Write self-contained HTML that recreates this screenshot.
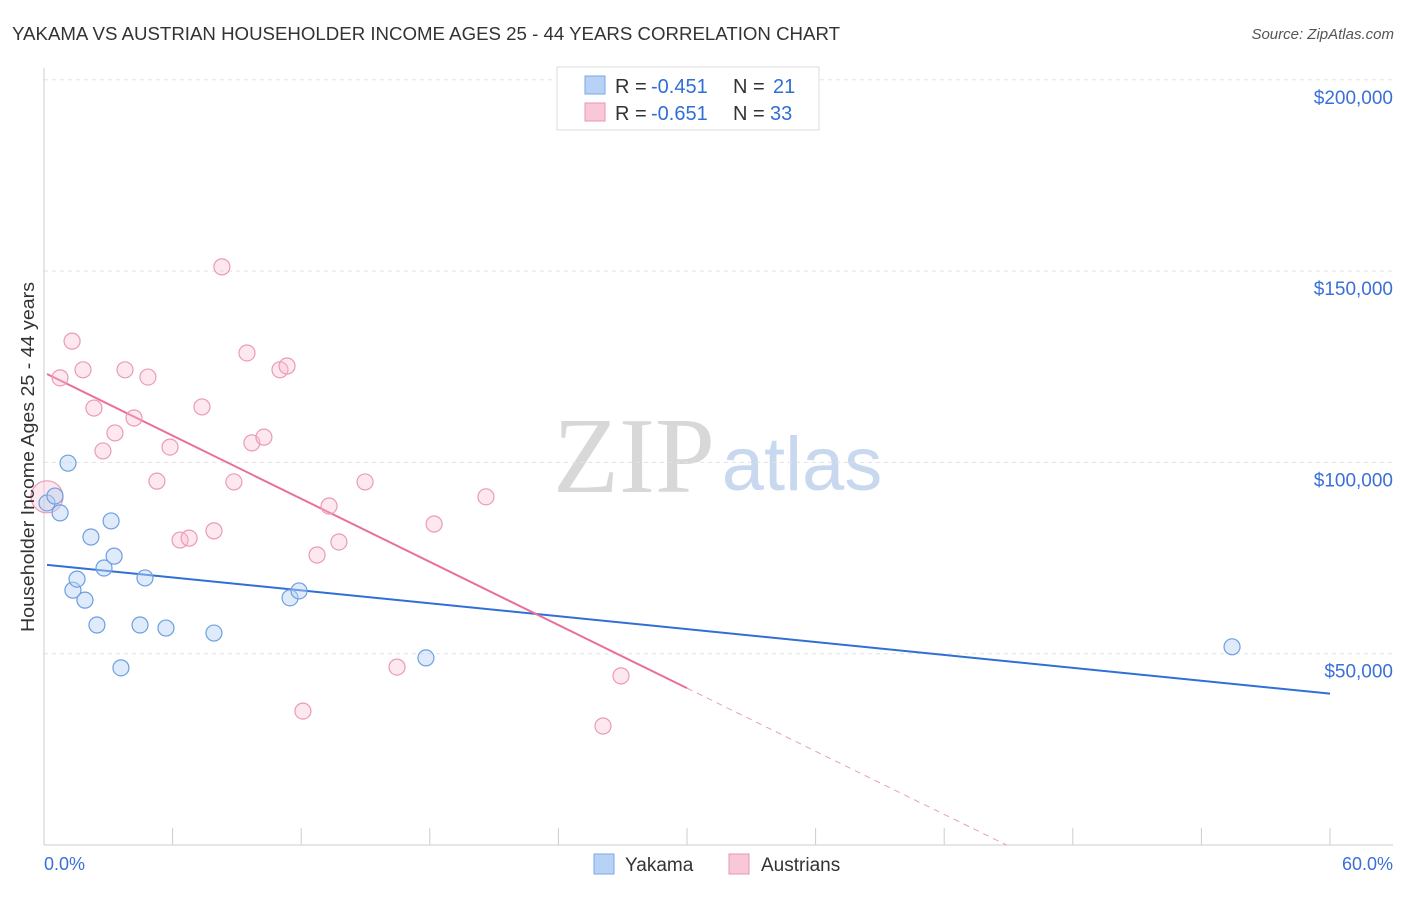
<!DOCTYPE html>
<html><head><meta charset="utf-8"><style>
body{margin:0;background:#fff;font-family:"Liberation Sans",sans-serif;}
svg text{font-family:"Liberation Sans",sans-serif;}
</style></head><body>
<svg id="c" width="1406" height="892" xmlns="http://www.w3.org/2000/svg">
<text x="12" y="40" font-size="18" fill="#333" textLength="828" lengthAdjust="spacingAndGlyphs">YAKAMA VS AUSTRIAN HOUSEHOLDER INCOME AGES 25 - 44 YEARS CORRELATION CHART</text>
<text x="1394" y="39" font-size="15" fill="#555" text-anchor="end" font-style="italic">Source: ZipAtlas.com</text>
<text x="634" y="492" font-size="108" fill="#d8d8d8" text-anchor="middle" style="font-family:'Liberation Serif',serif">ZIP</text>
<text x="802" y="490" font-size="76" fill="#c8d8ef" text-anchor="middle">atlas</text>
<g id="grid"></g><g id="axes"></g><g id="lines"></g><g id="pts"></g>
<text x="34" y="457" font-size="18" fill="#333" text-anchor="middle" textLength="350" lengthAdjust="spacingAndGlyphs" transform="rotate(-90 34 457)">Householder Income Ages 25 - 44 years</text>
<text x="44" y="870" font-size="18" fill="#3a6fd8">0.0%</text>
<text x="1393" y="870" font-size="18" fill="#3a6fd8" text-anchor="end">60.0%</text>
<g>
<rect x="557" y="67" width="262" height="63" fill="#fff" stroke="#ddd"/>
<rect x="585" y="76" width="20" height="18" fill="#b7d2f5" stroke="#7aa8e6"/>
<rect x="585" y="103" width="20" height="18" fill="#f9c8d7" stroke="#eb94b0"/>
<text x="615" y="93" font-size="20" fill="#333">R =</text>
<text x="651" y="93" font-size="20" fill="#2f6fd6">-0.451</text>
<text x="733" y="93" font-size="20" fill="#333">N =</text>
<text x="773" y="93" font-size="20" fill="#2f6fd6">21</text>
<text x="615" y="120" font-size="20" fill="#333">R =</text>
<text x="651" y="120" font-size="20" fill="#2f6fd6">-0.651</text>
<text x="733" y="120" font-size="20" fill="#333">N =</text>
<text x="770" y="120" font-size="20" fill="#2f6fd6">33</text>
</g>
<g>
<rect x="594" y="854" width="20" height="20" fill="#b7d2f5" stroke="#7aa8e6"/>
<text x="625" y="871" font-size="19" fill="#333">Yakama</text>
<rect x="729" y="854" width="20" height="20" fill="#f9c8d7" stroke="#eb94b0"/>
<text x="761" y="871" font-size="19" fill="#333">Austrians</text>
</g>
</svg>
<script>
const yTicks=[50000,100000,150000,200000];
const yTickLabels=["$50,000","$100,000","$150,000","$200,000"];
const xTicks=[0,6,12,18,24,30,36,42,48,54,60];
const blueX=[0.14,0.51,0.75,1.12,1.35,1.54,1.91,2.19,2.47,2.80,3.13,3.27,3.59,4.48,4.71,5.69,7.93,11.48,11.90,17.82,55.43];
const blueY=[89.4,91.2,86.8,99.8,66.6,69.5,64.0,80.5,57.5,72.4,84.7,75.5,46.3,57.5,69.8,56.7,55.4,64.6,66.4,48.9,51.8];
const pinkX=[0.14,0.75,1.31,1.82,2.33,2.75,3.31,3.78,4.20,4.85,5.27,5.88,6.35,6.77,7.37,7.93,8.30,8.86,9.47,9.70,10.26,11.01,11.34,12.08,12.74,13.30,13.76,14.98,16.47,18.20,20.62,26.08,26.92];
const pinkY=[91.0,122.1,131.7,124.2,114.2,103.0,107.7,124.2,111.6,122.3,95.1,104.0,79.7,80.2,114.5,82.1,151.1,94.9,128.6,105.1,106.6,124.2,125.2,35.0,75.8,88.6,79.2,94.9,46.5,83.9,91.0,31.1,44.2];
const blueTrend=[73.3,-0.5625];
const pinkTrend=[123.5,-2.75];
const NS="http://www.w3.org/2000/svg";
const X=v=>44+v/60*1286, Y=v=>845-v/50000*191.3, Yk=v=>Y(v*1000);
function mk(t,a,p){const e=document.createElementNS(NS,t);for(const k in a)e.setAttribute(k,a[k]);document.getElementById(p).appendChild(e);return e;}
yTicks.forEach((t,i)=>{
 const l=mk('line',{x1:44,x2:1393,y1:Y(t),y2:Y(t),stroke:'#e2e2e2','stroke-dasharray':'4,4'},'grid');
 
 
 const tx=mk('text',{x:1393,y:Y(t)+24,'font-size':19,fill:'#3a6fd8','text-anchor':'end'},'grid');
 tx.textContent=yTickLabels[i];
 
 
});
const ax=mk('line',{x1:44,x2:1393,y1:845,y2:845,stroke:'#ccc'},'axes');


const ay=mk('line',{x1:44,x2:44,y1:68,y2:845,stroke:'#ccc'},'axes');


xTicks.forEach(t=>{const l=mk('line',{x1:X(t),x2:X(t),y1:828,y2:845,stroke:'#ccc'},'axes');
 
 });
const bl=mk('line',{x1:X(0.14),y1:Yk(blueTrend[0]+blueTrend[1]*0.14),x2:X(60),y2:Yk(blueTrend[0]+blueTrend[1]*60),stroke:'#2f6fd6','stroke-width':2},'lines');


const pEnd=30, pZero=-pinkTrend[0]/pinkTrend[1];
const pl=mk('line',{x1:X(0.14),y1:Yk(pinkTrend[0]+pinkTrend[1]*0.14),x2:X(pEnd),y2:Yk(pinkTrend[0]+pinkTrend[1]*pEnd),stroke:'#e8709a','stroke-width':2},'lines');


const pd=mk('line',{x1:X(pEnd),y1:Yk(pinkTrend[0]+pinkTrend[1]*pEnd),x2:X(pZero),y2:Yk(0),stroke:'#e8a0b8','stroke-width':1,'stroke-dasharray':'6,5'},'lines');


pinkX.forEach((x,i)=>{const c=mk('circle',{cx:X(x),cy:Yk(pinkY[i]),r:i===0?16:8,fill:'rgba(248,190,208,0.35)',stroke:'#eb9ab5','stroke-width':1.2},'pts');
 
 });
blueX.forEach((x,i)=>{const c=mk('circle',{cx:X(x),cy:Yk(blueY[i]),r:8,fill:'rgba(183,210,245,0.45)',stroke:'#6d9fe0','stroke-width':1.2},'pts');
 
 });
</script>
</body></html>
